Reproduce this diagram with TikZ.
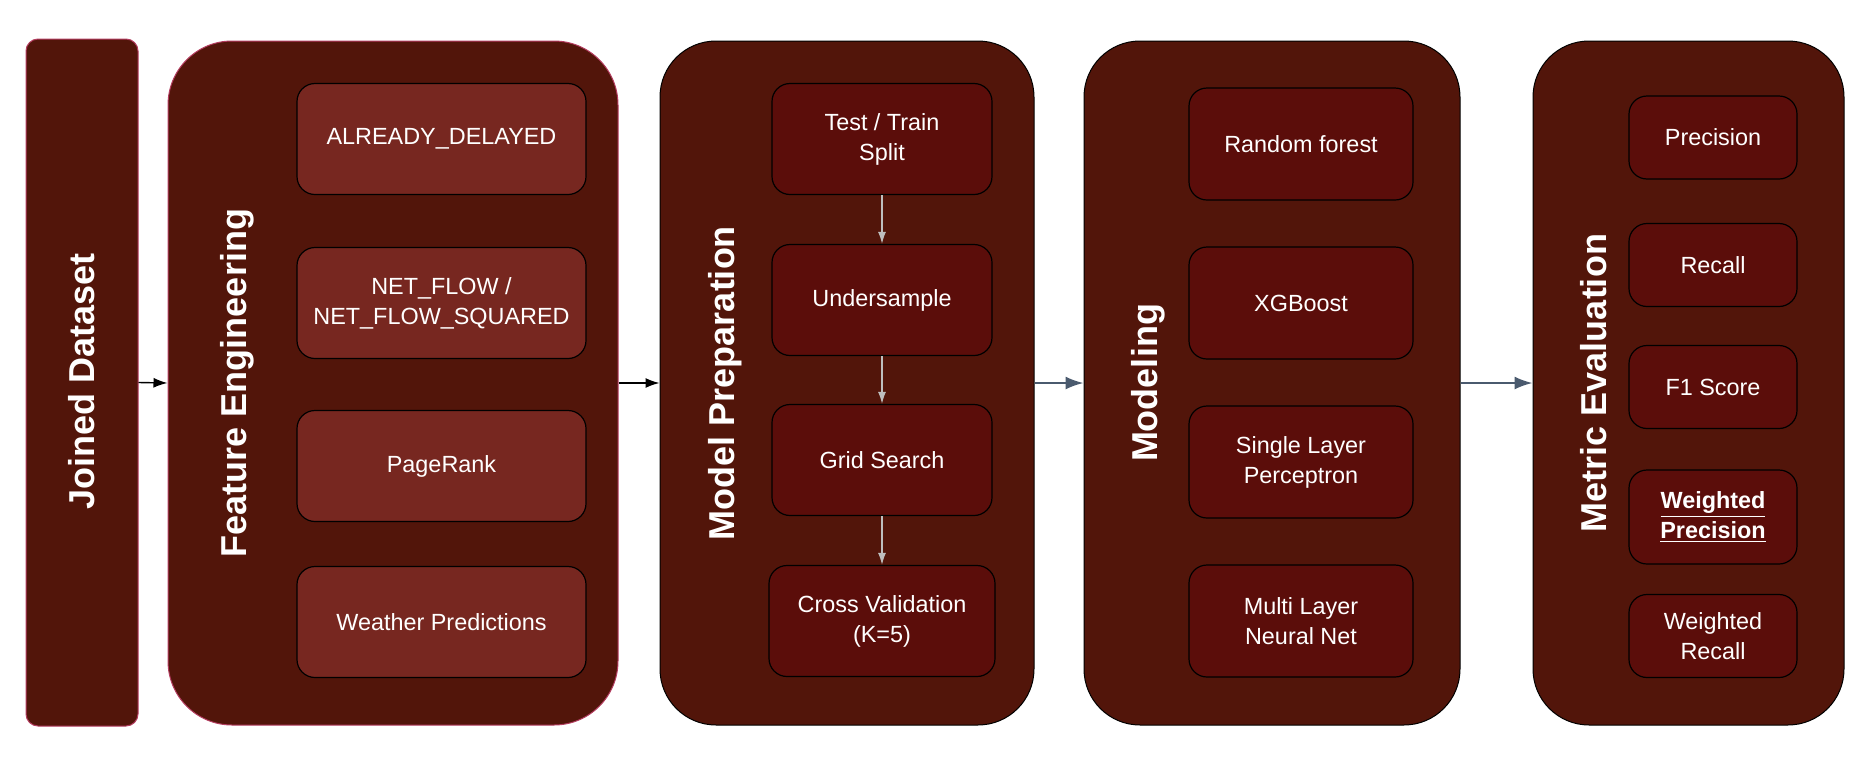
\documentclass[tikz,border=0pt]{standalone}
\usepackage{fontspec}
\setmainfont{Liberation Sans}
\usepackage{tikz}
\usetikzlibrary{arrows.meta}

\definecolor{stagebg}{RGB}{82,21,10}
\definecolor{featbg}{RGB}{119,39,32}
\definecolor{stepbg}{RGB}{91,13,10}
\definecolor{pinkline}{RGB}{180,60,95}
\definecolor{slate}{RGB}{74,90,110}
\definecolor{stepgray}{RGB}{190,190,190}

\begin{document}
\begin{tikzpicture}[x=0.5pt,y=-0.5pt,font=\fontsize{11.7}{15}\selectfont,
  stage/.style={draw=black,line width=0.5pt,fill=stagebg,rounded corners=28pt,minimum height=342pt,inner sep=0pt},
  stagetitle/.style={rotate=90,text=white,font=\fontsize{18}{22}\selectfont\bfseries},
  featbox/.style={draw=black,line width=0.6pt,fill=featbg,rounded corners=9pt,minimum width=144.5pt,minimum height=55.5pt,text=white,align=center},
  stepbox/.style={draw=black,line width=0.6pt,fill=stepbg,rounded corners=9pt,text=white,align=center},
  mainarrow/.style={->,line width=0.7pt,>={Latex[length=7pt,width=5pt]}},
  slatearrow/.style={->,draw=slate,line width=1pt,>={Latex[length=9pt,width=6.5pt]}},
  grayarrow/.style={->,draw=stepgray,line width=0.7pt,>={Latex[length=6pt,width=4pt]}}]
\useasboundingbox (0,0) rectangle (1870,756);

\node[stage,draw=pinkline,rounded corners=6pt,minimum width=56pt,minimum height=343.5pt] (joined) at (82,382.5) {};
\node[stage,draw=pinkline,rounded corners=32pt,minimum width=225pt] (feat) at (393,383) {};
\node[stage,minimum width=187pt] (prep) at (847,383) {};
\node[stage,minimum width=188pt] (model) at (1272,383) {};
\node[stage,minimum width=155.5pt] (metric) at (1688.5,383) {};

\node[stagetitle] (joinedT) at (82,381) {Joined Dataset};
\node[stagetitle] (featT) at (237,383) {Feature Engineering};
\node[stagetitle] (prepT) at (725,383) {Model Preparation};
\node[stagetitle] (modelT) at (1148,383) {Modeling};
\node[stagetitle] (metricT) at (1594,383) {Metric Evaluation};

\foreach \N/\Y/\L in {feat1/139/ALREADY\_DELAYED,feat2/303/{NET\_FLOW /\\NET\_FLOW\_SQUARED},feat3/466/PageRank,feat4/622/Weather Predictions}
{
  \node[featbox] (\N) at (441.5,\Y) {\L};
}

\foreach \N/\Y/\L in {prep1/139/{Test / Train\\Split},prep2/300/Undersample,prep3/460/Grid Search}
{
  \node[stepbox,minimum width=110pt,minimum height=55.5pt] (\N) at (882,\Y) {\L};
}
\node[stepbox,minimum width=113pt,minimum height=55.5pt] (prep4) at (882,621) {Cross Validation\\(K=5)};

\foreach \N/\Y/\L in {model1/144/Random forest,model2/303/XGBoost,model3/462/{Single Layer\\Perceptron},model4/621/{Multi Layer\\Neural Net}}
{
  \node[stepbox,minimum width=112pt,minimum height=56pt] (\N) at (1301,\Y) {\L};
}

\foreach \N/\Y/\L in {metric1/137.5/Precision,metric2/265/Recall,metric3/387/F1 Score,metric5/636/{Weighted\\Recall}}
{
  \node[stepbox,minimum width=84pt,minimum height=41.5pt] (\N) at (1713,\Y) {\L};
}
\node[stepbox,minimum width=84pt,minimum height=47pt] (metric4) at (1713,517) {\textbf{\underline{Weighted}}\\\textbf{\underline{Precision}}};

\draw[mainarrow] (joined.east) -- (feat.west);
\draw[mainarrow] (feat.east) -- (prep.west);
\draw[slatearrow] (prep.east) -- (model.west);
\draw[slatearrow] (model.east) -- (metric.west);
\draw[grayarrow] (prep1) -- (prep2);
\draw[grayarrow] (prep2) -- (prep3);
\draw[grayarrow] (prep3) -- (prep4);
\end{tikzpicture}
\end{document}
